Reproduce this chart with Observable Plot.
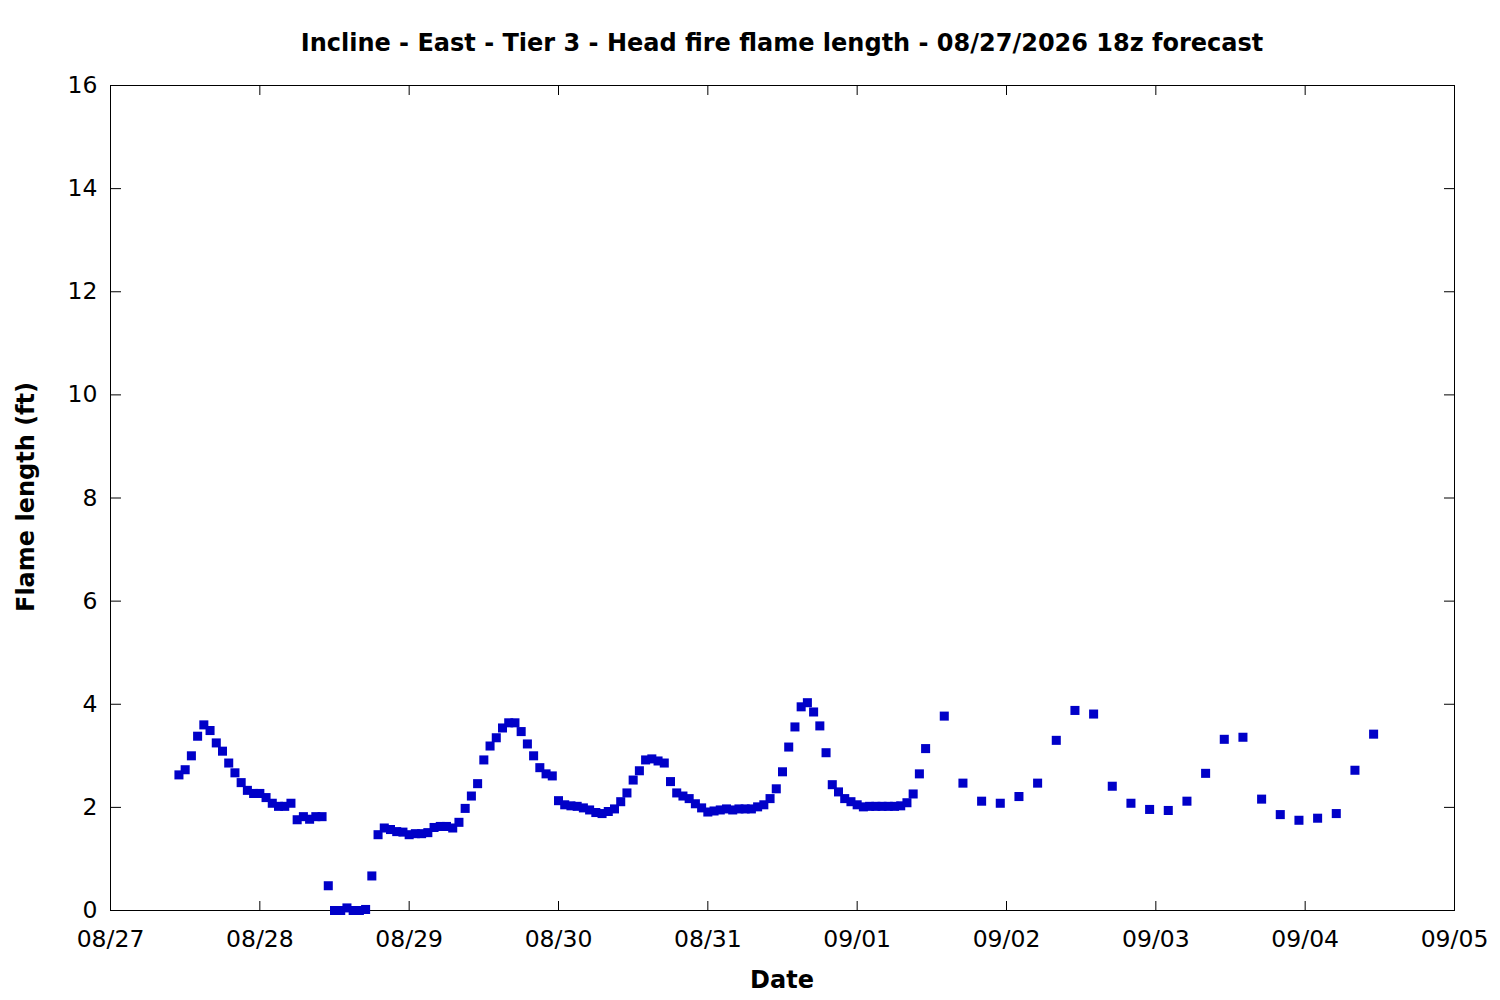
<!DOCTYPE html>
<html>
<head>
<meta charset="utf-8">
<script src="https://cdn.jsdelivr.net/npm/d3@7"></script>
<script src="https://cdn.jsdelivr.net/npm/@observablehq/plot@0.6"></script>
<style>
html, body { margin: 0; padding: 0; background: #fff; overflow: hidden; }
#wrap { position: relative; width: 1500px; height: 1000px; font-family: "DejaVu Sans", sans-serif; color: #000; }
#chart { position: absolute; left: 0; top: 0; }
.title { position: absolute; left: 110px; width: 1344px; top: 31px; text-align: center; font-weight: bold; font-size: 24px; line-height: 24px; white-space: nowrap; }
.xlabel { position: absolute; left: 110px; width: 1344px; top: 968px; text-align: center; font-weight: bold; font-size: 24px; line-height: 24px; }
.ylabel { position: absolute; left: 26px; top: 497px; font-weight: bold; font-size: 24px; line-height: 24px; white-space: nowrap; transform: translate(-50%, -50%) rotate(-90deg); }
</style>
</head>
<body>
<div id="wrap">
  <div id="chart"></div>
  <div class="title">Incline - East - Tier 3 - Head fire flame length - 08/27/2026 18z forecast</div>
  <div class="xlabel">Date</div>
  <div class="ylabel">Flame length (ft)</div>
</div>
<script>
// Hourly forecast values (ft), starting 08/27 11:00
const hourlyStart = "2026-08-27T11:00:00Z";
const hourlyValues = [
  2.63, 2.73, 3.00, 3.38, 3.60, 3.49, 3.25, 3.09, 2.86, 2.67,
  2.48, 2.33, 2.27, 2.27, 2.19, 2.08, 2.02, 2.02, 2.08, 1.76,
  1.82, 1.77, 1.82, 1.82, 0.48, 0.00, 0.00, 0.05, 0.00, 0.00,
  0.02, 0.67, 1.47, 1.60, 1.57, 1.53, 1.52, 1.47, 1.49, 1.49,
  1.51, 1.61, 1.63, 1.63, 1.60, 1.71, 1.98, 2.22, 2.46, 2.92,
  3.19, 3.35, 3.54, 3.64, 3.64, 3.47, 3.23, 3.00, 2.77, 2.65,
  2.61, 2.13, 2.05, 2.03, 2.02, 1.99, 1.95, 1.90, 1.88, 1.92,
  1.97, 2.11, 2.28, 2.53, 2.71, 2.92, 2.94, 2.90, 2.86, 2.50,
  2.28, 2.22, 2.17, 2.07, 1.99, 1.91, 1.93, 1.95, 1.97, 1.95,
  1.97, 1.97, 1.97, 2.01, 2.05, 2.17, 2.36, 2.69, 3.17, 3.56,
  3.95, 4.03, 3.85, 3.58, 3.06, 2.44, 2.30, 2.17, 2.11, 2.05,
  2.01, 2.02, 2.02, 2.02, 2.02, 2.02, 2.03, 2.09, 2.26, 2.65,
  3.14
];
// 3-hourly forecast values (ft), starting 09/01 14:00
const threeHourlyStart = "2026-09-01T14:00:00Z";
const threeHourlyValues = [
  3.77, 2.47, 2.12, 2.08, 2.21, 2.47, 3.30, 3.88, 3.81, 2.41,
  2.08, 1.96, 1.94, 2.12, 2.66, 3.32, 3.36, 2.16, 1.86, 1.75,
  1.79, 1.88, 2.72, 3.42
];
const dayTicks = ["2026-08-27", "2026-08-28", "2026-08-29", "2026-08-30", "2026-08-31",
                  "2026-09-01", "2026-09-02", "2026-09-03", "2026-09-04", "2026-09-05"];
const yTicks = [0, 2, 4, 6, 8, 10, 12, 14, 16];

const data = [
  ...hourlyValues.map((v, i) => ({date: d3.utcHour.offset(new Date(hourlyStart), i), value: v})),
  ...threeHourlyValues.map((v, i) => ({date: d3.utcHour.offset(new Date(threeHourlyStart), 3 * i), value: v}))
];
const xTicks = dayTicks.map(s => new Date(s + "T00:00:00Z"));
const fmt = d3.utcFormat("%m/%d");

const chart = Plot.plot({
  width: 1500,
  height: 1000,
  marginLeft: 110,
  marginRight: 46,
  marginTop: 85,
  marginBottom: 90,
  style: {fontFamily: "DejaVu Sans", fontSize: "23.5px", color: "black", background: "transparent", overflow: "visible"},
  x: {type: "utc", domain: [xTicks[0], xTicks[xTicks.length - 1]]},
  y: {domain: [0, 16]},
  marks: [
    Plot.axisX(xTicks, {anchor: "bottom", tickSize: 0, tickPadding: 20, tickFormat: fmt, label: null}),
    Plot.axisX(xTicks, {anchor: "top", frameAnchor: "bottom", tickSize: 10, fill: "none", label: null}),
    Plot.axisX(xTicks, {anchor: "bottom", frameAnchor: "top", tickSize: 10, fill: "none", label: null}),
    Plot.axisY(yTicks, {anchor: "left", tickSize: 0, tickPadding: 13, tickFormat: d3.format("d"), label: null}),
    Plot.axisY(yTicks, {anchor: "right", frameAnchor: "left", tickSize: 10, fill: "none", label: null}),
    Plot.axisY(yTicks, {anchor: "left", frameAnchor: "right", tickSize: 10, fill: "none", label: null}),
    Plot.frame({stroke: "black", strokeWidth: 1}),
    Plot.dot(data, {x: "date", y: "value", symbol: "square", r: 5.1, fill: "#0000c8", stroke: null})
  ]
});
document.getElementById("chart").appendChild(chart);
</script>
</body>
</html>
